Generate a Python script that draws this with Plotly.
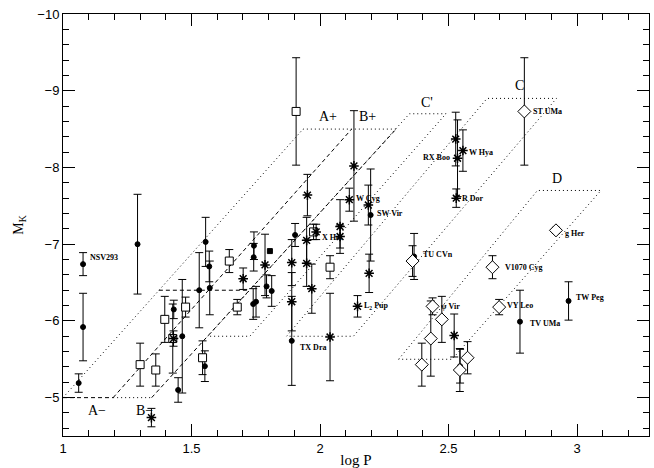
import plotly.graph_objects as go

# ---------------- data (log P, M_K, error) ----------------
dot_x = [1.078, 1.29, 1.078, 1.061, 1.431, 1.448, 1.464, 1.530, 1.555, 1.552, 1.569, 1.571,
         1.743, 1.742, 1.740, 1.751, 1.792, 1.812, 1.903, 1.890, 2.197, 2.366, 2.545, 2.778, 2.967]
dot_y = [-6.74, -7.00, -5.92, -5.19, -6.15, -5.10, -5.80, -6.40, -7.03, -5.41, -6.71, -6.43,
         -6.98, -6.83, -6.22, -6.25, -6.45, -6.39, -7.12, -5.74, -7.38, -6.84, -5.41, -5.99, -6.26]
dot_e = [0.15, 0.65, 0.44, 0.12, 0.12, 0.16, 0.74, 0.49, 0.32, 0.20, 0.20, 0.35,
         0.18, 0.18, 0.20, 0.20, 0.15, 0.20, 0.15, 0.58, 0.60, 0.30, 0.22, 0.41, 0.25]

sq_x = [1.30, 1.361, 1.396, 1.427, 1.477, 1.543, 1.647, 1.678, 1.907, 1.975, 2.039]
sq_y = [-5.43, -5.36, -6.02, -5.77, -6.18, -5.52, -6.78, -6.18, -8.73, -7.16, -6.70]
sq_e = [0.28, 0.21, 0.30, 0.45, 0.13, 0.22, 0.15, 0.10, 0.70, 0.10, 0.15]

fsq_x = [1.805]
fsq_y = [-6.91]

ast_x = [1.344, 1.430, 1.701, 1.786, 1.890, 1.890, 1.951, 1.948, 1.948, 1.968, 1.985, 2.078,
         2.078, 2.114, 2.132, 2.188, 2.191, 2.146, 2.039, 2.522, 2.528, 2.535, 2.556, 2.530]
ast_y = [-4.74, -5.77, -6.55, -6.73, -6.76, -6.25, -7.64, -7.05, -6.75, -6.42, -7.16, -7.23,
         -7.10, -7.58, -8.02, -7.51, -6.62, -6.19, -5.79, -5.81, -8.37, -8.12, -8.22, -7.60]
ast_e = [0.12, 0.10, 0.14, 0.40, 0.30, 0.38, 0.27, 0.30, 0.30, 0.32, 0.10, 0.35,
         0.15, 0.15, 0.72, 0.26, 0.25, 0.14, 0.57, 0.28, 0.35, 0.50, 0.27, 0.12]

dia_x = [2.360, 2.396, 2.431, 2.438, 2.474, 2.544, 2.574, 2.671, 2.697, 2.918, 2.795]
dia_y = [-6.78, -5.43, -5.77, -6.19, -6.02, -5.36, -5.52, -6.70, -6.18, -7.18, -8.73]
dia_e = [0.20, 0.28, 0.49, 0.11, 0.30, 0.28, 0.21, 0.15, 0.10, 0.04, 0.70]

star_names = ["NSV293", "TX Dra", "X Her", "W Cyg", "SW Vir", "L<sub>2</sub> Pup", "TU CVn",
              "ψ Vir", "V1070 Cyg", "VY Leo", "TV UMa", "TW Peg", "g Her", "ST UMa",
              "RX Boo", "W Hya", "R Dor"]
star_lx = [1.097, 1.914, 2.000, 2.133, 2.215, 2.164, 2.393, 2.463, 2.711, 2.719, 2.808,
           2.987, 2.944, 2.822, 2.513, 2.573, 2.546]
star_ly = [-6.82, -5.66, -7.09, -7.59, -7.40, -6.19, -6.87, -6.19, -6.70, -6.20, -5.97,
           -6.31, -7.14, -8.73, -8.13, -8.19, -7.59]
star_anchor = ["left"] * 14 + ["right", "left", "left"]

region_names = ["A+", "B+", "C'", "C", "D", "A−", "B−"]
region_lx = [2.032, 2.183, 2.417, 2.775, 2.923, 1.131, 1.318]
region_ly = [-8.67, -8.67, -8.85, -9.07, -7.85, -4.83, -4.83]

# region boundaries (log P, M_K)
a_left_x, a_left_y = [1.0, 1.934, 2.296], [-5.0, -8.5, -8.5]
ab_div_x, ab_div_y = [1.195, 2.123], [-5.0, -8.5]
b_right_x, b_right_y = [1.345, 2.296], [-5.0, -8.5]
bot_dash_x, bot_dash_y = [1.0, 1.195], [-5.0, -5.0]
bot_dot_x, bot_dot_y = [1.195, 1.345], [-5.0, -5.0]
trgb_x, trgb_y = [1.373, 1.72], [-6.4, -6.4]
cp_x, cp_y = [1.564, 2.348, 2.49, 1.727, 1.564], [-5.8, -8.7, -8.7, -5.8, -5.8]
c_x, c_y = [1.87, 2.65, 2.92, 2.13, 1.87], [-5.8, -8.9, -8.9, -5.8, -5.8]
d_x, d_y = [2.306, 2.846, 3.093, 2.514, 2.306], [-5.5, -7.7, -7.7, -5.5, -5.5]

DOT = "1px,3px"
DASH = "4px,3px"

fig = go.Figure()

def line(x, y, dash):
    fig.add_trace(go.Scatter(x=x, y=y, mode="lines", showlegend=False, hoverinfo="skip",
                             line=dict(color="black", width=1, dash=dash)))

line(a_left_x, a_left_y, DOT)
line(bot_dot_x, bot_dot_y, DOT)
line(cp_x, cp_y, DOT)
line(c_x, c_y, DOT)
line(d_x, d_y, DOT)
line(ab_div_x, ab_div_y, DASH)
line(b_right_x, b_right_y, DASH)
line(bot_dash_x, bot_dash_y, DASH)
line(trgb_x, trgb_y, DASH)

def pts(x, y, e, symbol, size, fill, lw=1):
    eb = dict(type="data", array=e, visible=True, color="black", thickness=1, width=4) if e else None
    fig.add_trace(go.Scatter(
        x=x, y=y, mode="markers", showlegend=False, error_y=eb,
        marker=dict(symbol=symbol, size=size, color=fill,
                    line=dict(color="black", width=lw))))

pts(dot_x, dot_y, dot_e, "circle", 5, "black")
pts(sq_x, sq_y, sq_e, "square", 8, "white")
pts(fsq_x, fsq_y, None, "square", 5, "black")
pts(ast_x, ast_y, ast_e, "asterisk-open", 8, "black", lw=1.5)
pts(dia_x, dia_y, dia_e, "diamond", 10, "white")

for n, x, y, a in zip(star_names, star_lx, star_ly, star_anchor):
    fig.add_annotation(x=x, y=y, text="<b>" + n + "</b>", showarrow=False, xanchor=a,
                       yanchor="middle", font=dict(family="Liberation Serif", size=8, color="black"))

for n, x, y in zip(region_names, region_lx, region_ly):
    fig.add_annotation(x=x, y=y, text=n, showarrow=False, xanchor="center", yanchor="middle",
                       font=dict(family="Liberation Serif", size=14, color="black"))

axis_common = dict(showgrid=False, zeroline=False, showline=True, linecolor="black", linewidth=1,
                   mirror="ticks", ticks="inside", tickcolor="black", tickwidth=1, ticklen=12,
                   tickfont=dict(family="Liberation Sans", size=13, color="black"))

fig.update_xaxes(range=[1, 3.28], tick0=1, dtick=0.5,
                 minor=dict(dtick=0.1, ticks="inside", ticklen=6, tickcolor="black", tickwidth=1),
                 title=dict(text="log P", font=dict(family="Liberation Serif", size=15, color="black"),
                            standoff=6),
                 **axis_common)
fig.update_yaxes(range=[-4.5, -10], tick0=-10, dtick=1,
                 minor=dict(dtick=0.2, ticks="inside", ticklen=6, tickcolor="black", tickwidth=1),
                 title=dict(text="M<sub>K</sub>", font=dict(family="Liberation Serif", size=14, color="black"),
                            standoff=10),
                 **axis_common)

fig.update_layout(width=654, height=468, margin=dict(l=63, r=5, t=14, b=32, autoexpand=False),
                  plot_bgcolor="white", paper_bgcolor="white", showlegend=False)

fig.write_html("out.html", config={"displayModeBar": False},
               post_script="document.body.style.margin='0px';")
